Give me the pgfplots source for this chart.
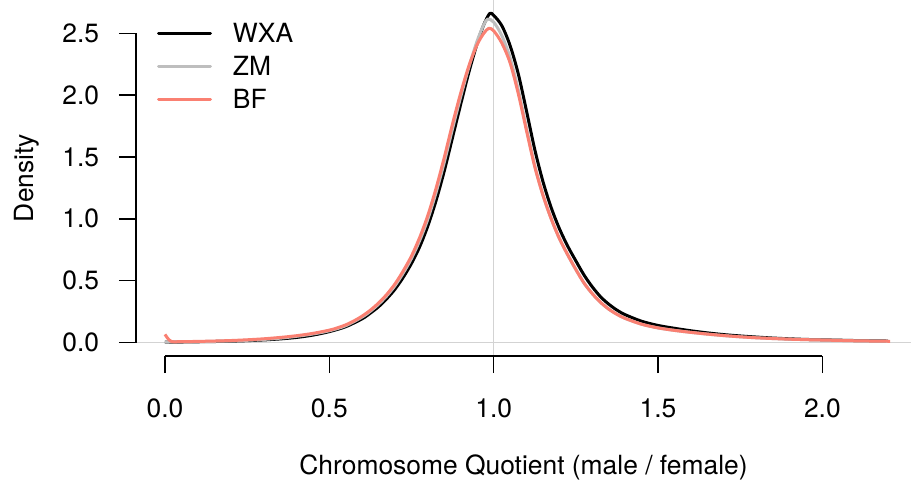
\documentclass[border=0pt]{standalone}
\usepackage{fontspec}
\setmainfont{TeX Gyre Heros}
\usepackage{pgfplots}
\pgfplotsset{compat=1.18}
\definecolor{salmon}{HTML}{FA8072}
\definecolor{rgrey}{HTML}{BEBEBE}
\definecolor{lgrey}{HTML}{D3D3D3}

\pgfplotstableread{
x y
0.000 0.003
0.050 0.004
0.100 0.006
0.150 0.008
0.200 0.011
0.250 0.015
0.300 0.021
0.350 0.029
0.400 0.041
0.450 0.060
0.500 0.088
0.550 0.128
0.600 0.192
0.625 0.238
0.650 0.290
0.675 0.355
0.700 0.432
0.725 0.528
0.750 0.640
0.775 0.775
0.800 0.945
0.825 1.150
0.850 1.390
0.875 1.660
0.900 1.930
0.925 2.190
0.950 2.420
0.970 2.570
0.988 2.660
1.000 2.645
1.025 2.560
1.050 2.400
1.075 2.170
1.100 1.870
1.125 1.560
1.150 1.300
1.175 1.090
1.200 0.920
1.225 0.780
1.250 0.660
1.275 0.545
1.300 0.450
1.325 0.370
1.350 0.310
1.375 0.262
1.400 0.225
1.450 0.172
1.500 0.138
1.550 0.115
1.600 0.095
1.650 0.078
1.700 0.064
1.750 0.053
1.800 0.044
1.850 0.036
1.900 0.030
1.950 0.025
2.000 0.022
2.050 0.019
2.100 0.016
2.150 0.014
2.200 0.012
}\wxa

\pgfplotstableread{
x y
0.000 0.004
0.050 0.005
0.100 0.007
0.150 0.010
0.200 0.013
0.250 0.018
0.300 0.025
0.350 0.035
0.400 0.050
0.450 0.069
0.500 0.095
0.550 0.136
0.600 0.206
0.625 0.253
0.650 0.310
0.675 0.378
0.700 0.460
0.725 0.562
0.750 0.680
0.775 0.825
0.800 1.000
0.825 1.215
0.850 1.460
0.875 1.730
0.900 1.990
0.925 2.230
0.950 2.440
0.970 2.570
0.982 2.615
1.000 2.590
1.025 2.480
1.050 2.300
1.075 2.040
1.100 1.730
1.125 1.430
1.150 1.190
1.175 1.000
1.200 0.840
1.225 0.710
1.250 0.590
1.275 0.480
1.300 0.395
1.325 0.325
1.350 0.270
1.375 0.228
1.400 0.195
1.450 0.148
1.500 0.118
1.550 0.098
1.600 0.082
1.650 0.068
1.700 0.056
1.750 0.046
1.800 0.038
1.850 0.032
1.900 0.027
1.950 0.023
2.000 0.020
2.050 0.017
2.100 0.014
2.150 0.012
2.200 0.010
}\zm

\pgfplotstableread{
x y
0.000 0.066
0.008 0.035
0.020 0.008
0.050 0.007
0.100 0.009
0.150 0.012
0.200 0.016
0.250 0.022
0.300 0.030
0.350 0.041
0.400 0.055
0.450 0.074
0.500 0.100
0.525 0.119
0.550 0.143
0.575 0.175
0.600 0.214
0.625 0.262
0.650 0.320
0.675 0.390
0.700 0.475
0.725 0.580
0.750 0.700
0.775 0.850
0.800 1.030
0.825 1.250
0.850 1.500
0.875 1.770
0.900 2.020
0.925 2.240
0.950 2.410
0.970 2.500
0.985 2.540
1.000 2.520
1.025 2.420
1.050 2.260
1.075 2.010
1.100 1.710
1.125 1.420
1.150 1.190
1.175 1.000
1.200 0.840
1.225 0.710
1.250 0.590
1.275 0.480
1.300 0.395
1.325 0.325
1.350 0.270
1.375 0.228
1.400 0.195
1.450 0.148
1.500 0.118
1.550 0.098
1.600 0.082
1.650 0.068
1.700 0.056
1.750 0.046
1.800 0.038
1.850 0.032
1.900 0.027
1.950 0.023
2.000 0.020
2.050 0.017
2.100 0.014
2.150 0.012
2.206 0.010
}\bf

\begin{document}
\begin{tikzpicture}[font=\fontsize{13.2bp}{15.8bp}\selectfont]
\begin{axis}[
  name=ax,
  at={(0,0)}, anchor=south west,
  scale only axis, width=387.5bp, height=178bp,
  xmin=-0.0882, xmax=2.2696, ymin=-0.109, ymax=2.769,
  clip=false,
  axis line style={draw=none},
  tick pos=left,
  tick align=outside,
  major tick length=8.5bp,
  tick style={black, line width=0.75bp},
  xtick={0,0.5,1,1.5,2},
  xticklabels={0.0,0.5,1.0,1.5,2.0},
  ytick={0,0.5,1,1.5,2,2.5},
  yticklabels={0.0,0.5,1.0,1.5,2.0,2.5},
  xticklabel style={anchor=north, inner sep=0pt, yshift=-12.75bp},
  yticklabel style={anchor=east, inner sep=0pt, xshift=-9.75bp},
  xlabel={Chromosome Quotient (male / female)},
  ylabel={Density},
  xlabel style={at={(rel axis cs:0.5,-0.3118)}, anchor=center},
  ylabel style={at={(rel axis cs:-0.1413,0.5)}, anchor=center},
  legend cell align=left,
  legend style={draw=none, fill=none, at={(rel axis cs:0.0271,0.934)}, anchor=north west,
    inner sep=0pt, outer sep=0pt, row sep=6.9bp, column sep=10.5bp,
    nodes={inner sep=0pt, text height=9.6bp, text depth=0pt}},
  legend image code/.code={\draw[#1, line cap=round] (0bp,0bp) -- (26bp,0bp);},
]
\draw[lgrey, line width=0.6bp] (axis cs:-0.0882,0) -- (axis cs:2.2696,0);
\draw[lgrey, line width=0.6bp] (axis cs:1,-0.109) -- (axis cs:1,2.769);
\draw[black, line width=0.75bp] (axis cs:0,-0.109) -- (axis cs:2,-0.109);
\draw[black, line width=0.75bp] (axis cs:-0.0882,0) -- (axis cs:-0.0882,2.5);
\addplot[black, line width=1.5bp, smooth, line join=round] table {\wxa};
\addlegendentry{WXA}
\addplot[rgrey, line width=1.5bp, smooth, line join=round] table {\zm};
\addlegendentry{ZM}
\addplot[salmon, line width=1.5bp, smooth, line join=round] table {\bf};
\addlegendentry{BF}
\end{axis}
\pgfresetboundingbox
\path[use as bounding box] ([shift={(-68bp,-66.5bp)}]ax.south west) rectangle (ax.north east);
\end{tikzpicture}
\end{document}
